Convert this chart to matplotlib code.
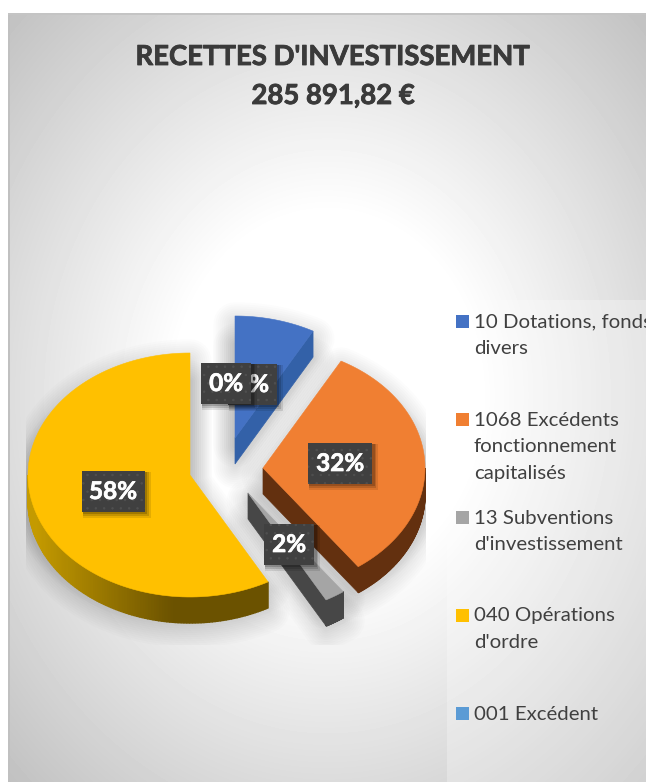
import numpy as np
import matplotlib
matplotlib.use("Agg")
import matplotlib.pyplot as plt
import matplotlib.patheffects as pe
from matplotlib.patches import Rectangle, Polygon

# ---- data ----
title_lines = ["RECETTES D'INVESTISSEMENT", "285 891,82 €"]
categories = ["10 Dotations, fonds\ndivers",
              "1068 Excédents\nfonctionnement\ncapitalisés",
              "13 Subventions\nd'investissement",
              "040 Opérations\nd'ordre",
              "001 Excédent"]
values = [8, 32, 2, 58, 0]
colors = ["#4472c4", "#f07f32", "#a5a5a5", "#ffc000", "#5b9bd5"]

# ---- style / layout ----
W, H = 646, 782
RX, RY, DEPTH = 162, 122, 26
apexes = [(235, 438), (263, 468), (248, 493), (190, 475), (226, 383)]
label_centers = [(252, 384), (340, 463), (289, 544), (113, 491), (226, 383)]
label_widths = [49, 64, 50, 63, 50]
label_order = [0, 1, 2, 3, 4]
edge_dark = ["#3361a8", "#63300f", "#474747", "#6b5200", "#3f6f9c"]
arc_light = ["#3361a8", "#63300f", "#4c4c4c", "#c49a00", "#3f6f9c"]
legend_y = [322, 420, 518, 616, 714]
FONT = "Lato"
plt.rcParams["hatch.linewidth"] = 0.5

fig = plt.figure(figsize=(W / 100, H / 100), dpi=100, facecolor="white")
ax = fig.add_axes([0, 0, 1, 1])
ax.set_xlim(0, W)
ax.set_ylim(H, 0)
ax.axis("off")

# background gradient
yy, xx = np.mgrid[0:H, 0:W]
t = np.hypot((xx - 327) / (327 * 2**.5), (yy - 395) / (390 * 2**.5))
v = np.clip((t - 0.33) / 0.67, 0, 1)
bg = 1 - 0.25 * v
bg[:13, :] = 1
bg[:, :8] = 1
ax.imshow(bg, cmap="gray", vmin=0, vmax=1, extent=(0, W, H, 0), aspect="auto", zorder=0)
ax.set_xlim(0, W)
ax.set_ylim(H, 0)
ax.add_patch(Rectangle((8, 13), 2, H - 13, fc="#c0c0c0", ec="none", zorder=1))
ax.add_patch(Rectangle((8, 13), W - 8, 2, fc="#c4c4c4", ec="none", zorder=1))
ax.add_patch(Rectangle((447, 300), W - 447, H - 300, fc="white", alpha=0.28, ec="none", zorder=1))

# pie geometry from the values
total = sum(values)
edges = np.concatenate([[0], np.cumsum(values)]) / total * 2 * np.pi


def pt(ax0, ay0, th):
    return ax0 + RX * np.sin(th), ay0 - RY * np.cos(th)


def mix(c1, c2, f):
    a, b = np.array(matplotlib.colors.to_rgb(c1)), np.array(matplotlib.colors.to_rgb(c2))
    return tuple(a + (b - a) * f)


clip = Rectangle((26, 300), 400, 345, transform=ax.transData)

# shadows
for i, val in enumerate(values):
    if val == 0:
        continue
    a0, a1 = edges[i], edges[i + 1]
    th = np.linspace(a0, a1, 80)
    cx, cy = apexes[i]
    px, py = pt(cx, cy, th)
    xs = np.r_[cx, px]
    for lw in np.arange(4, 34, 3):
        for dy in (DEPTH * 0.3, DEPTH + 3):
            p = Polygon(np.c_[xs, np.r_[cy, py] + dy], closed=True, fc="none", ec="black",
                        lw=lw, alpha=0.012, joinstyle="round", zorder=2)
            ax.add_patch(p)
            p.set_clip_path(clip)

# slices
for i, val in enumerate(values):
    if val == 0:
        continue
    a0, a1 = edges[i], edges[i + 1]
    cx, cy = apexes[i]
    z = 3 + i * 0.1
    # cut face on the clockwise end
    if a1 <= np.pi:
        ex, ey = pt(cx, cy, a1)
        ax.add_patch(Polygon([(cx, cy), (ex, ey), (ex, ey + DEPTH), (cx, cy + DEPTH)],
                             closed=True, fc=edge_dark[i], ec=edge_dark[i], lw=0.5, zorder=z))
    # outer wall
    lo, hi = max(a0, np.pi / 2), min(a1, 3 * np.pi / 2)
    if hi > lo:
        th = np.linspace(lo, hi, 120)
        for k in range(len(th) - 1):
            x0, y0 = pt(cx, cy, th[k])
            x1, y1 = pt(cx, cy, th[k + 1])
            f = np.clip((np.sin(th[k]) + 0.95) / 0.85, 0, 1)
            c = mix(arc_light[i], edge_dark[i], f)
            ax.add_patch(Polygon([(x0, y0), (x1, y1), (x1, y1 + DEPTH), (x0, y0 + DEPTH)],
                                 closed=True, fc=c, ec=c, lw=1.0, zorder=z))
    # top face
    th = np.linspace(a0, a1, 120)
    px, py = pt(cx, cy, th)
    ax.add_patch(Polygon(np.c_[np.r_[cx, px], np.r_[cy, py]], closed=True, fc=colors[i],
                         ec=colors[i], lw=0.4, zorder=z + 0.05))

# data labels
for j, i in enumerate(label_order):
    lx, ly = label_centers[i]
    w, h = label_widths[i], 41
    for s, a in ((5, .10), (3, .14), (1.5, .18)):
        ax.add_patch(Rectangle((lx - w / 2 + 1, ly - h / 2 + 1), w + s, h + s, fc="black", alpha=a,
                               ec="none", zorder=6 + j))
    ax.add_patch(Rectangle((lx - w / 2, ly - h / 2), w, h, fc="#404040", ec="#505050", lw=0,
                           hatch="..", zorder=6 + j + .1))
    ax.text(lx, ly + 0.5, f"{values[i]}%", color="white", fontsize=17.5, fontweight="bold", family=FONT,
            ha="center", va="center", zorder=6 + j + .2,
            path_effects=[pe.withStroke(linewidth=0.5, foreground="white")])

# legend
for y, c, name in zip(legend_y, colors, categories):
    ax.add_patch(Rectangle((456, y - 7.5), 13, 13, fc=c, ec="none", zorder=5))
    for n, line in enumerate(name.split("\n")):
        ax.text(474, y + n * 27, line, color="#404040", fontsize=14.7, family=FONT,
                ha="left", va="center", zorder=5, clip_on=True)

# title
for tline, ty in zip(title_lines, (57, 96)):
    ax.text(333, ty, tline, color="#3a3a3a", fontsize=19.8, fontweight="bold", family=FONT,
            ha="center", va="center", zorder=5,
            path_effects=[pe.withStroke(linewidth=0.6, foreground="#3a3a3a")])

fig.savefig("out.png", dpi=100, facecolor="white")
